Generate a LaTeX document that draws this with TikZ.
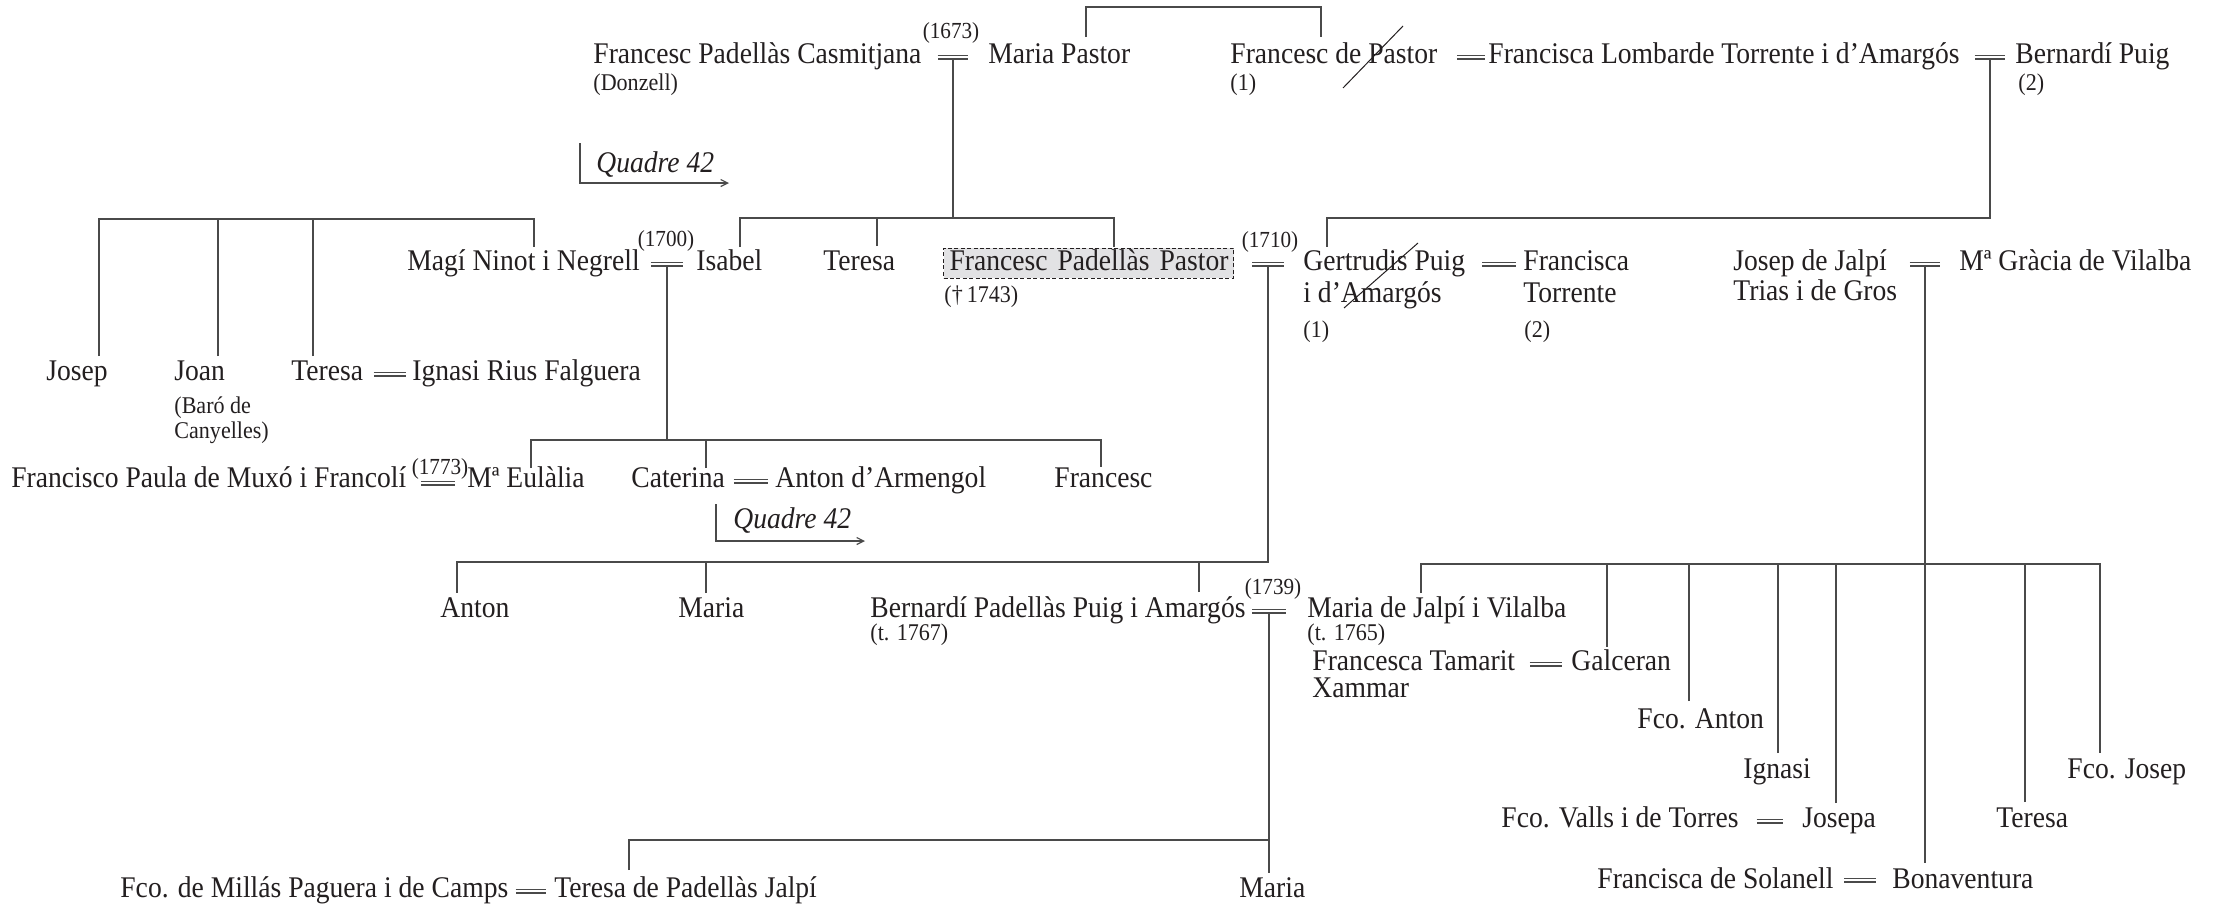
\documentclass[tikz,border=0pt]{standalone}
\usepackage{fontspec}
\setmainfont{Liberation Serif}[FakeStretch=0.92]
\usetikzlibrary{arrows.meta}
\definecolor{ink}{HTML}{231F20}
\definecolor{lncol}{HTML}{4A4A4A}
\definecolor{boxfill}{HTML}{E2E2E4}
\tikzset{
 nm/.style={anchor=base west, inner sep=0pt, text=ink, font=\fontsize{15}{18}\selectfont},
 nt/.style={anchor=base west, inner sep=0pt, text=ink, font=\fontsize{12}{14}\selectfont},
 yr/.style={anchor=center, inner sep=0pt, text=ink, font=\fontsize{11.5}{13}\selectfont},
 qd/.style={anchor=base west, inner sep=0pt, text=ink, font=\fontsize{15}{18}\selectfont\itshape},
 mar/.style={inner sep=0pt, minimum height=2.5pt, minimum width=#1},
 dbl/.style={draw=lncol, double=white, double distance=1.3pt, line width=0.6pt},
 ln/.style={draw=lncol, line width=0.75pt},
 strike/.style={draw=ink, line width=0.5pt},
 arr/.style={draw=lncol, line width=0.6pt, -{Straight Barb[length=3.5pt,width=3.5pt]}},
 hl/.style={anchor=base west, draw=ink, dashed, dash pattern=on 2pt off 1.2pt, line width=0.5pt, fill=boxfill,
   text=ink, font=\fontsize{15}{18}\selectfont, text width=139pt, align=left, inner xsep=3pt,
   text height=11pt, text depth=4pt, inner ysep=0pt},
}
\begin{document}
\begin{tikzpicture}[x=0.5pt,y=-0.5pt]
\useasboundingbox (0,0) rectangle (2213,906);

% ---------- row 1
\node[nm] (fpc) at (593,63) {Francesc Padellàs Casmitjana};
\node[nt] (donz) at (593,90) {(Donzell)};
\node[yr] (y1673) at (951,33) {(1673)};
\node[mar=15pt] (m1) at (953,57) {};
\node[nm] (mp) at (988,63) {Maria Pastor};
\node[nm] (fdp) at (1230,63) {Francesc de Pastor};
\node[nt] (fdp1) at (1230,90) {(1)};
\node[mar=13.5pt] (m2) at (1471,57) {};
\node[nm] (flt) at (1488,63) {Francisca Lombarde Torrente i d’Amargós};
\node[mar=15pt] (m3) at (1990,57) {};
\node[nm] (bp) at (2015,63) {Bernardí Puig};
\node[nt] (bp2) at (2018,90) {(2)};
\coordinate (s1a) at (1343,88);
\coordinate (s1b) at (1403,26);

% Quadre 42 (1)
\node[qd] (q1) at (596,172) {Quadre 42};
\coordinate (q1s) at (580,143);
\coordinate (q1e) at (729,183);

% ---------- row 2
\node[nm] (magi) at (407,270) {Magí Ninot i Negrell};
\node[yr] (y1700) at (666,241) {(1700)};
\node[mar=16pt] (m4) at (667,264) {};
\node[nm] (isabel) at (696,270) {Isabel};
\node[nm] (teresa1) at (823,270) {Teresa};
\node[hl] (fpp) at (943,270) {\mbox{Francesc Padellàs Pastor}};
\node[nt] (fppd) at (944,302) {(†\,1743)};
\node[yr] (y1710) at (1270,242) {(1710)};
\node[mar=15.5pt] (m5) at (1268,264) {};
\node[nm] (gert) at (1303,270) {Gertrudis Puig};
\node[nm] (gert2) at (1303,302) {i d’Amargós};
\node[nt] (gert3) at (1303,337) {(1)};
\coordinate (s2a) at (1344,308);
\coordinate (s2b) at (1418,243);
\node[mar=16.5pt] (m6) at (1499,264) {};
\node[nm] (fra) at (1523,270) {Francisca};
\node[nm] (fra2) at (1523,302) {Torrente};
\node[nt] (fra3) at (1524,337) {(2)};
\node[nm] (jj) at (1733,270) {Josep de Jalpí};
\node[nm] (jj2) at (1733,300) {Trias i de Gros};
\node[mar=15pt] (m7) at (1925,264) {};
\node[nm] (mgv) at (1959,270) {Mª Gràcia de Vilalba};

% ---------- row 3
\node[nm] (josep) at (46,380) {Josep};
\node[nm] (joan) at (174,380) {Joan};
\node[nt] (joan2) at (174,413) {(Baró de};
\node[nt] (joan3) at (174,438) {Canyelles)};
\node[nm] (teresa2) at (291,380) {Teresa};
\node[mar=16pt] (m8) at (390,374) {};
\node[nm] (irf) at (412,380) {Ignasi Rius Falguera};

% ---------- row 4
\node[nm] (fpm) at (11,487) {Francisco Paula de Muxó i Francolí};
\node[yr] (y1773) at (440,469) {(1773)};
\node[mar=16.5pt] (m9) at (438,483) {};
\node[nm] (meu) at (467,487) {Mª Eulàlia};
\node[nm] (cat) at (631,487) {Caterina};
\node[mar=17pt] (m10) at (751,481) {};
\node[nm] (ada) at (775,487) {Anton d’Armengol};
\node[nm] (fr4) at (1054,487) {Francesc};

% Quadre 42 (2)
\node[qd] (q2) at (733,528) {Quadre 42};
\coordinate (q2s) at (716,504);
\coordinate (q2e) at (865,541);

% ---------- row 5
\node[nm] (anton) at (440,617) {Anton};
\node[nm] (maria5) at (678,617) {Maria};
\node[nm] (bpp) at (870,617) {Bernardí Padellàs Puig i Amargós};
\node[nt] (bppd) at (870,640) {(t. 1767)};
\node[yr] (y1739) at (1273,589) {(1739)};
\node[mar=16.5pt] (m11) at (1269,611) {};
\node[nm] (mjv) at (1307,617) {Maria de Jalpí i Vilalba};
\node[nt] (mjvd) at (1307,640) {(t. 1765)};

% ---------- right children
\node[nm] (ftam) at (1312,670) {Francesca Tamarit};
\node[nm] (ftam2) at (1312,697) {Xammar};
\node[mar=16pt] (m12) at (1546,664) {};
\node[nm] (galc) at (1571,670) {Galceran};
\node[nm] (fcoa) at (1637,728) {Fco. Anton};
\node[nm] (ign) at (1743,778) {Ignasi};
\node[nm] (fcoj) at (2067,778) {Fco. Josep};
\node[nm] (fvt) at (1501,827) {Fco. Valls i de Torres};
\node[mar=13pt] (m13) at (1770,821) {};
\node[nm] (josepa) at (1802,827) {Josepa};
\node[nm] (teresa3) at (1996,827) {Teresa};
\node[nm] (fsol) at (1597,888) {Francisca de Solanell};
\node[mar=15.5pt] (m14) at (1860,880) {};
\node[nm] (bon) at (1892,888) {Bonaventura};

% ---------- bottom row
\node[nm] (fmp) at (120,897) {Fco. de Millás Paguera i de Camps};
\node[mar=15pt] (m15) at (531,891) {};
\node[nm] (tpj) at (554,897) {Teresa de Padellàs Jalpí};
\node[nm] (maria6) at (1239,897) {Maria};

% ---------- marriage signs
\foreach \m in {m1,m2,m3,m4,m5,m6,m7,m8,m9,m10,m11,m12,m13,m14,m15}
  \draw[dbl] (\m.west) -- (\m.east);

% ---------- strike marks
\draw[strike] (s1a) -- (s1b);
\draw[strike] (s2a) -- (s2b);

% ---------- Quadre arrows
\draw[arr] (q1s) |- (q1e);
\draw[arr] (q2s) |- (q2e);

% ---------- connectors
% Maria Pastor -- Francesc de Pastor
\coordinate (cmp) at (1086,37);
\coordinate (cfdp) at (1321,37);
\coordinate (top1) at (0,7);
\draw[ln] (cmp) -- (cmp |- top1) -- (cfdp |- top1) -- (cfdp);

% children of m1
\coordinate (g1) at (0,218);
\coordinate (cis) at (740,247);
\coordinate (cte1) at (877,246);
\coordinate (cfpp) at (1114,247);
\draw[ln] (m1.south) -- (m1.south |- g1);
\draw[ln] (cis) -- (cis |- g1) -- (cfpp |- g1) -- (cfpp);
\draw[ln] (cte1) -- (cte1 |- g1);

% m3 -> Gertrudis
\coordinate (cge) at (1327,247);
\coordinate (g2) at (0,218);
\draw[ln] (m3.south) -- (m3.south |- g2) -- (cge |- g2) -- (cge);

% Magí siblings
\coordinate (g3) at (0,219);
\coordinate (cjo) at (99,356);
\coordinate (cja) at (218,356);
\coordinate (cte2) at (313,356);
\coordinate (cmg) at (534,247);
\draw[ln] (cjo) -- (cjo |- g3) -- (cmg |- g3) -- (cmg);
\draw[ln] (cja) -- (cja |- g3);
\draw[ln] (cte2) -- (cte2 |- g3);

% children of m4
\coordinate (g4) at (0,440);
\coordinate (cme) at (531,468);
\coordinate (cca) at (706,468);
\coordinate (cfr) at (1101,467);
\draw[ln] (m4.south) -- (m4.south |- g4);
\draw[ln] (cme) -- (cme |- g4) -- (cfr |- g4) -- (cfr);
\draw[ln] (cca) -- (cca |- g4);

% children of m5
\coordinate (g5) at (0,562);
\coordinate (can) at (457,593);
\coordinate (cma) at (706,593);
\coordinate (cbp) at (1199,592);
\draw[ln] (m5.south) -- (m5.south |- g5) -- (can |- g5) -- (can);
\draw[ln] (cma) -- (cma |- g5);
\draw[ln] (cbp) -- (cbp |- g5);

% children of m11
\coordinate (g6) at (0,840);
\coordinate (ctp) at (629,870);
\coordinate (cm6) at (0,873);
\draw[ln] (m11.south) -- (m11.south |- cm6);
\draw[ln] (ctp) -- (ctp |- g6) -- (m11.south |- g6);

% children of m7
\coordinate (g7) at (0,564);
\coordinate (cmj) at (1421,593);
\coordinate (cga) at (1607,647);
\coordinate (cfa) at (1689,701);
\coordinate (cig) at (1778,753);
\coordinate (cjs) at (1836,803);
\coordinate (cbo) at (0,863);
\coordinate (cte3) at (2025,802);
\coordinate (cfj) at (2100,753);
\draw[ln] (m7.south) -- (m7.south |- cbo);
\draw[ln] (cmj) -- (cmj |- g7) -- (cfj |- g7) -- (cfj);
\foreach \c in {cga,cfa,cig,cjs,cte3}
  \draw[ln] (\c) -- (\c |- g7);
\end{tikzpicture}
\end{document}
